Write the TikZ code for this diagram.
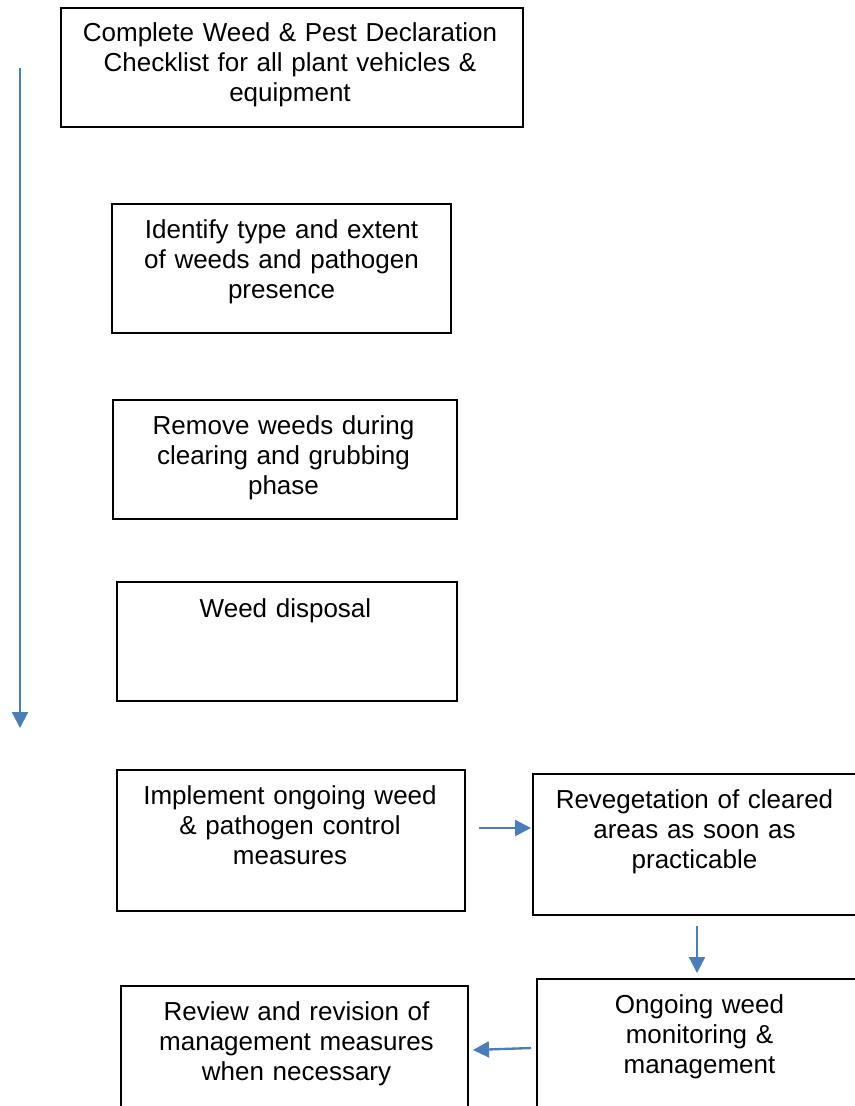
\documentclass[tikz,border=0pt]{standalone}
\usepackage{fontspec}
\setmainfont{Liberation Sans}
\usetikzlibrary{arrows.meta}
\definecolor{edge_blue}{RGB}{74,126,187}

\begin{document}
\begin{tikzpicture}[x=0.75pt,y=-0.75pt,>={Triangle[length=12pt,width=12pt]}]
    \tikzstyle{box}=[draw=black, rectangle, line width=1.5pt, inner sep=0pt, fill=none]
    \tikzstyle{txt}=[anchor=base, inner sep=0pt, text width=340pt, align=center, text=black, font=\fontsize{19.5}{22.5}\selectfont]
    \tikzstyle{flow}=[->, draw=edge_blue, line width=1.75pt]

    \useasboundingbox (0,0) rectangle (855,1106);
    \clip (0,0) rectangle (855,1106);

    \node[box, minimum width=346.5pt, minimum height=89.25pt] (chk)    at (292,67.5)    {};
    \node[box, minimum width=254.25pt, minimum height=96.75pt] (ident) at (281.5,268.5) {};
    \node[box, minimum width=258pt, minimum height=89.25pt]   (remove) at (285,459.5)   {};
    \node[box, minimum width=255pt, minimum height=89.25pt]   (disp)   at (287,641.5)   {};
    \node[box, minimum width=261pt, minimum height=105.75pt]  (impl)   at (291,840.5)   {};
    \node[box, minimum width=243.75pt, minimum height=105.75pt] (reveg) at (695.5,844.5) {};
    \node[box, minimum width=243.75pt, minimum height=105.75pt] (monit) at (699.5,1049.5) {};
    \node[box, minimum width=260.25pt, minimum height=105.75pt] (review) at (294.5,1056.5) {};

    \node[txt] (chk-t)    at (290,42)     {Complete Weed \& Pest Declaration\\Checklist for all plant vehicles \&\\equipment};
    \node[txt] (ident-t)  at (281.5,238)  {Identify type and extent\\of weeds and pathogen\\presence};
    \node[txt] (remove-t) at (283.5,434)  {Remove weeds during\\clearing and grubbing\\phase};
    \node[txt] (disp-t)   at (285.5,617)  {Weed disposal};
    \node[txt] (impl-t)   at (290,804)    {Implement ongoing weed\\\& pathogen control\\measures};
    \node[txt] (reveg-t)  at (694.5,808)  {Revegetation of cleared\\areas as soon as\\practicable};
    \node[txt] (monit-t)  at (699.5,1013) {Ongoing weed\\monitoring \&\\management};
    \node[txt] (review-t) at (296.5,1020) {Review and revision of\\management measures\\when necessary};

    \coordinate (top)  at (20,68);
    \coordinate (bot)  at (20,728);
    \coordinate (r1)   at (479,828);
    \coordinate (r2)   at (531,828);
    \coordinate (d1)   at (697,926);
    \coordinate (d2)   at (697,973);
    \coordinate (l1)   at (531,1048);
    \coordinate (l2)   at (473,1050);

    \path
     (top) edge[flow] (bot)
     (r1)  edge[flow] (r2)
     (d1)  edge[flow] (d2)
     (l1)  edge[flow] (l2)
     ;
\end{tikzpicture}
\end{document}
